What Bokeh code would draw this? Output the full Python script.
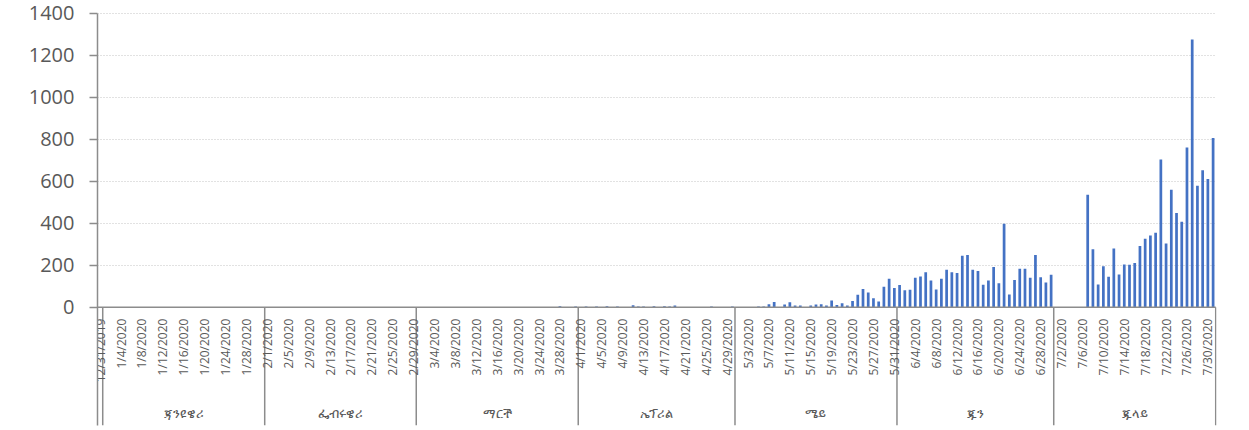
import math
import pandas as pd
from bokeh.plotting import figure
from bokeh.models import ColumnDataSource, FixedTicker, Range1d
from bokeh.core.properties import value
from bokeh.embed import file_html
from bokeh.resources import INLINE

# ---- data -------------------------------------------------------------
month_names = ["", "ጃንዩዌሪ", "ፌብሩዌሪ", "ማርች", "ኤፕሪል", "ሜይ", "ጁን", "ጁላይ"]

dec_2019 = [0]
jan_2020 = [0, 0, 0, 0, 0, 0, 0, 0, 0, 0, 0, 0, 0, 0, 0, 0,
            0, 0, 0, 0, 0, 0, 0, 0, 0, 0, 0, 0, 0, 0, 0]
feb_2020 = [0, 0, 0, 0, 0, 0, 0, 0, 0, 0, 0, 0, 0, 0, 0,
            0, 0, 0, 0, 0, 0, 0, 0, 0, 0, 0, 0, 0, 0]
mar_2020 = [0, 0, 0, 0, 0, 0, 0, 0, 0, 0, 0, 0, 1, 0, 1, 1,
            0, 0, 0, 0, 0, 0, 0, 0, 0, 0, 0, 4, 0, 0, 3]
apr_2020 = [0, 3, 0, 3, 0, 5, 0, 3, 0, 0, 9, 3, 3, 0, 4,
            0, 5, 3, 8, 0, 0, 0, 0, 0, 0, 3, 0, 0, 0, 3]
may_2020 = [0, 0, 0, 0, 3, 3, 14, 25, 0, 13, 24, 8, 8, 0, 8, 13,
            14, 8, 32, 10, 19, 8, 30, 59, 87, 70, 43, 27, 97, 135, 92]
jun_2020 = [106, 81, 83, 140, 146, 167, 127, 84, 135, 178, 167, 163, 245, 249, 178,
            173, 107, 127, 192, 114, 397, 60, 130, 183, 183, 140, 249, 143, 118, 154]
jul_2020 = [0, 0, 0, 0, 0, 0, 536, 276, 108, 195, 145, 280, 156, 203, 202, 210,
            292, 326, 341, 354, 703, 303, 559, 449, 407, 760, 1275, 578, 652, 610, 806]

month_values = [dec_2019, jan_2020, feb_2020, mar_2020, apr_2020, may_2020, jun_2020, jul_2020]

tick_labels = ["12/31/2019", "1/4/2020", "1/8/2020", "1/12/2020", "1/16/2020", "1/20/2020",
               "1/24/2020", "1/28/2020", "2/1/2020", "2/5/2020", "2/9/2020", "2/13/2020",
               "2/17/2020", "2/21/2020", "2/25/2020", "2/29/2020", "3/4/2020", "3/8/2020",
               "3/12/2020", "3/16/2020", "3/20/2020", "3/24/2020", "3/28/2020", "4/1/2020",
               "4/5/2020", "4/9/2020", "4/13/2020", "4/17/2020", "4/21/2020", "4/25/2020",
               "4/29/2020", "5/3/2020", "5/7/2020", "5/11/2020", "5/15/2020", "5/19/2020",
               "5/23/2020", "5/27/2020", "5/31/2020", "6/4/2020", "6/8/2020", "6/12/2020",
               "6/16/2020", "6/20/2020", "6/24/2020", "6/28/2020", "7/2/2020", "7/6/2020",
               "7/10/2020", "7/14/2020", "7/18/2020", "7/22/2020", "7/26/2020", "7/30/2020"]

y_ticks = [0, 200, 400, 600, 800, 1000, 1200, 1400]

# ---- derived ----------------------------------------------------------
values = [v for m in month_values for v in m]
n = len(values)
xs = list(range(n))
start_date = pd.Timestamp("2019-12-31")
tick_x = [(pd.Timestamp(s) - start_date).days for s in tick_labels]

bounds = [-0.5]
for m in month_values:
    bounds.append(bounds[-1] + len(m))
centers = [(bounds[i] + bounds[i + 1]) / 2 for i in range(len(month_values))]

AXIS = "#8c8c8c"
TXT = "#595959"
FONT = "Open Sans"

y_lo, y_hi = -563.3, 1436.7

p = figure(width=1249, height=430, output_backend="svg", toolbar_location=None,
           x_axis_location=None, x_range=Range1d(-0.5, n - 0.5 + 0.15),
           y_range=Range1d(y_lo, y_hi),
           min_border_left=97, min_border_right=33, min_border_top=5, min_border_bottom=5)
p.outline_line_color = None
p.background_fill_color = "white"
p.border_fill_color = "white"

for g in p.grid:
    if g.dimension == 0:
        g.visible = False

# grid
p.ygrid.ticker = FixedTicker(ticks=y_ticks[1:])
p.ygrid.grid_line_color = "#c4c4c4"
p.ygrid.grid_line_dash = "1 2"
p.ygrid.grid_line_width = 1

# y axis
ya = p.yaxis[0]
ya.ticker = FixedTicker(ticks=y_ticks)
ya.bounds = (y_lo, 1400)
ya.axis_line_color = AXIS
ya.axis_line_width = 1.5
ya.major_tick_line_color = AXIS
ya.major_tick_line_width = 1.5
ya.major_tick_out = 8
ya.major_tick_in = 0
ya.minor_tick_line_color = None
ya.major_label_standoff = 15
ya.major_label_text_font = FONT
ya.major_label_text_font_size = "20px"
ya.major_label_text_color = TXT

# bars
src = ColumnDataSource(dict(x=xs, y=values))
p.vbar(x="x", top="y", width=0.52, source=src, fill_color="#4472C4", line_color=None)

# category axis line and group separators
p.segment(x0=[-0.5], y0=[0], x1=[n - 0.5], y1=[0], line_color=AXIS, line_width=1.5)
sep_x = bounds[1:]
p.segment(x0=sep_x, y0=[0] * len(sep_x), x1=sep_x, y1=[y_lo] * len(sep_x),
          line_color=AXIS, line_width=1.5)

# date labels
lab_src = ColumnDataSource(dict(x=tick_x, y=[-54] * len(tick_x), t=tick_labels))
p.text(x="x", y="y", text="t", source=lab_src, angle=math.pi / 2,
       text_align="right", text_baseline="middle",
       text_font=value(FONT), text_font_size="12px", text_color=TXT)

# month labels
mon_src = ColumnDataSource(dict(x=centers, y=[-505] * len(centers), t=month_names))
p.text(x="x", y="y", text="t", source=mon_src, text_align="center", text_baseline="middle",
       text_font=value("Noto Sans"), text_font_size="13px", text_color=TXT)

open("out.html", "w").write(file_html(p, INLINE))
